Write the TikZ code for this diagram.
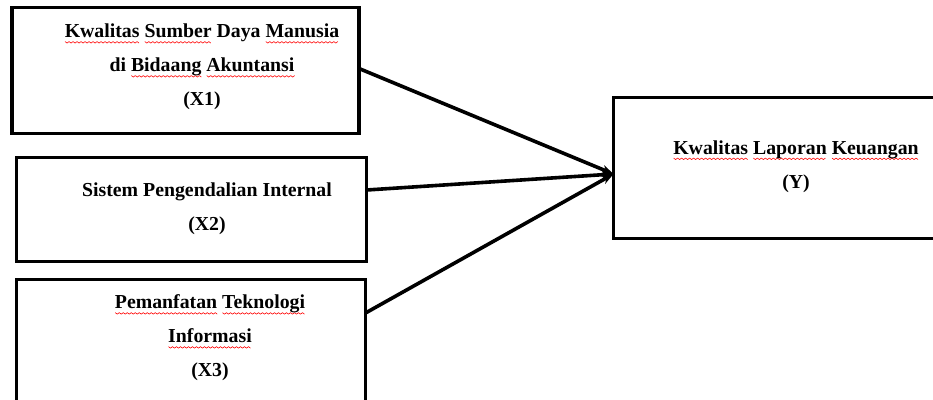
\documentclass[tikz,border=0pt]{standalone}
\usepackage{fontspec}
\setmainfont{Liberation Serif}
\usetikzlibrary{arrows.meta}
\newsavebox\sqbox
\newcount\sqn
\newcommand\sq[1]{\sbox\sqbox{#1}\sqn=\wd\sqbox \divide\sqn by 131072 \rlap{\tikz[baseline=0pt]{\draw[red, line width=0.6pt, line join=round] (0pt,-3.8pt) \foreach \i in {1,...,\the\sqn} { -- ({\i*2pt},{-3.8pt-mod(\i,2)*1.5pt}) };}}\usebox\sqbox}
\tikzset{
  box/.style={draw=black, line width=3.5pt, rectangle, inner sep=0pt, outer sep=0pt},
  lbl/.style={align=center, font=\fontsize{19.8}{34}\selectfont\bfseries, inner sep=0pt},
  arr/.style={line width=3.6pt, -{Stealth[length=12pt,width=9pt]}}
}
\begin{document}
\begin{tikzpicture}[x=1pt,y=-1pt]
\useasboundingbox (0,0) rectangle (933,399);
\fill[white] (0,0) rectangle (933,399);
\node[box, minimum width=347pt, minimum height=126pt] (X1) at (185.5,70.5) {};
\node[box, minimum width=350pt, minimum height=104pt] (X2) at (191.5,209.5) {};
\node[box, minimum width=349pt, minimum height=141pt] (X3) at (191,350) {};
\node[box, minimum width=336.5pt, minimum height=141pt] (Y) at (781.75,168) {};
\node[lbl] (t1) at (202,67) {\sq{Kwalitas} \sq{Sumber} Daya \sq{Manusia}\\di \sq{Bidaang} \sq{Akuntansi}\\(X1)};
\node[lbl] (t2) at (207,208.5) {Sistem Pengendalian Internal\\(X2)};
\node[lbl] (t3) at (210,338) {\sq{Pemanfatan} \sq{Teknologi}\\\sq{Informasi}\\(X3)};
\node[lbl] (ty) at (796,166.5) {\sq{Kwalitas} \sq{Laporan} \sq{Keuangan}\\(Y)};
\coordinate (s1) at ([yshift=2pt]X1.east);
\coordinate (s2) at ([yshift=-32.5pt]X2.north east);
\coordinate (s3) at ([yshift=-33.5pt]X3.north east);
\coordinate (e) at ([yshift=-6pt]Y.west);
\draw[arr] (s1) -- (e);
\draw[arr] (s2) -- (e);
\draw[arr] (s3) -- (e);
\end{tikzpicture}
\end{document}
